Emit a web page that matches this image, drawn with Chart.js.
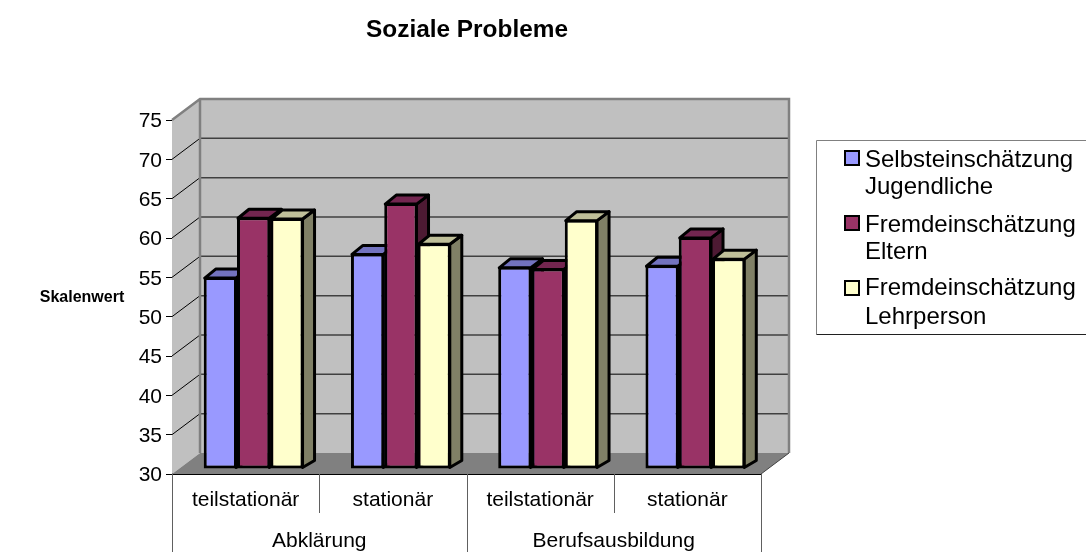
<!DOCTYPE html>
<html>
<head>
<meta charset="utf-8">
<style>
  html, body { margin: 0; padding: 0; background: #fff; overflow: hidden; }
  canvas { display: block; }
</style>
<script src="https://cdn.jsdelivr.net/npm/chart.js@4"></script>
</head>
<body>
<canvas id="chart" width="1086" height="552"></canvas>
<script>
// Data
const categories = ['teilstationär', 'stationär', 'teilstationär', 'stationär'];
const groups = ['Abklärung', 'Berufsausbildung'];
const selbst = [54.4, 57.4, 55.7, 55.9];
const eltern = [62, 63.8, 55.5, 59.5];
const lehrer = [61.9, 58.7, 61.7, 56.8];
const legendLines = [
    ['Selbsteinschätzung', 'Jugendliche'],
    ['Fremdeinschätzung', 'Eltern'],
    ['Fremdeinschätzung', 'Lehrperson']
];

const FONT = '"Liberation Sans", Arial, sans-serif';

// Front, top and side colour per series
const faces = [
    { front: '#9999ff', top: '#7373bf', side: '#4d4d80' },
    { front: '#993366', top: '#732650', side: '#4d1a33' },
    { front: '#ffffcc', top: '#bfbf99', side: '#808066' }
];

// Depth of the box and of the bars, in pixels
const wall = { dx: 28, dy: -21 };
const bar = { dx: 11, dy: -8 };
const barShift = { x: 8, y: -5 };

function poly(ctx, pts, fill, stroke, width) {
    ctx.beginPath();
    pts.forEach((p, i) => i ? ctx.lineTo(p[0], p[1]) : ctx.moveTo(p[0], p[1]));
    ctx.closePath();
    if (fill) { ctx.fillStyle = fill; ctx.fill(); }
    if (stroke) { ctx.strokeStyle = stroke; ctx.lineWidth = width; ctx.stroke(); }
}

// Walls, floor and grid behind the bars
const box3d = {
    id: 'box3d',
    beforeDatasetsDraw(chart) {
        const { ctx, chartArea: a, scales: { y } } = chart;
        const { dx, dy } = wall;
        ctx.save();
        ctx.lineJoin = 'miter';
        poly(ctx, [[a.left + dx, a.top + dy], [a.right + dx, a.top + dy], [a.right + dx, a.bottom + dy], [a.left + dx, a.bottom + dy]], '#c0c0c0');
        poly(ctx, [[a.left, a.top], [a.left + dx, a.top + dy], [a.left + dx, a.bottom + dy], [a.left, a.bottom]], '#c0c0c0');
        poly(ctx, [[a.left, a.bottom], [a.left + dx, a.bottom + dy], [a.right + dx, a.bottom + dy], [a.right, a.bottom]], '#808080');

        y.ticks.forEach(t => {
            if (t.value === y.min || t.value === y.max) return;
            const py = y.getPixelForValue(t.value);
            ctx.strokeStyle = '#000';
            ctx.lineWidth = 1;
            ctx.beginPath();
            ctx.moveTo(a.left, py);
            ctx.lineTo(a.left + dx, py + dy);
            ctx.stroke();
            ctx.strokeStyle = '#404040';
            ctx.lineWidth = 1.5;
            ctx.beginPath();
            ctx.moveTo(a.left + dx, py + dy);
            ctx.lineTo(a.right + dx, py + dy);
            ctx.stroke();
        });

        // Grey outline of the walls
        ctx.strokeStyle = '#808080';
        ctx.lineWidth = 2.5;
        ctx.beginPath();
        ctx.moveTo(a.left, a.top);
        ctx.lineTo(a.left + dx, a.top + dy);
        ctx.lineTo(a.right + dx, a.top + dy);
        ctx.lineTo(a.right + dx, a.bottom + dy);
        ctx.moveTo(a.left + dx, a.top + dy);
        ctx.lineTo(a.left + dx, a.bottom + dy);
        ctx.stroke();
        ctx.strokeStyle = '#404040';
        ctx.lineWidth = 1;
        ctx.beginPath();
        ctx.moveTo(a.right, a.bottom);
        ctx.lineTo(a.right + dx, a.bottom + dy);
        ctx.stroke();
        ctx.restore();

        // Bars stand in the middle of the floor
        ctx.save();
        ctx.translate(barShift.x, barShift.y);

        // Side and top faces go first, the library paints the fronts over them
        ctx.lineJoin = 'round';
        chart.data.datasets.forEach((ds, i) => {
            const f = faces[i];
            chart.getDatasetMeta(i).data.forEach(el => {
                const hw = el.width / 2;
                const l = el.x - hw, r = el.x + hw, t = el.y, b = el.base;
                poly(ctx, [[r - 1, t + 1], [r + bar.dx, t + bar.dy], [r + bar.dx, b + bar.dy], [r - 1, b - 1]], f.side, '#000', 3);
                poly(ctx, [[l + 1, t + 1], [l + 1 + bar.dx, t + bar.dy], [r + bar.dx, t + bar.dy], [r - 1, t + 1]], f.top, '#000', 3);
            });
        });
    },
    afterDatasetsDraw(chart) {
        chart.ctx.restore();
    },
    afterDraw(chart) {
        const { ctx, chartArea: a, scales: { x } } = chart;
        const cw = x.width / categories.length;
        ctx.save();

        // Lines between the two label levels
        ctx.strokeStyle = '#606060';
        ctx.lineWidth = 1;
        for (let i = 0; i <= categories.length; i++) {
            const px = Math.round(x.left + i * cw) + 0.5;
            ctx.beginPath();
            ctx.moveTo(px, a.bottom);
            ctx.lineTo(px, i % 2 ? 513 : 552);
            ctx.stroke();
        }

        ctx.fillStyle = '#000';
        ctx.textBaseline = 'middle';
        ctx.textAlign = 'center';
        ctx.font = '21px ' + FONT;
        groups.forEach((g, i) => {
            const mid = (x.getPixelForValue(i * 2) + x.getPixelForValue(i * 2 + 1)) / 2;
            ctx.fillText(g, mid, 541);
        });

        ctx.font = 'bold 24.4px ' + FONT;
        ctx.fillText('Soziale Probleme', 467, 30);
        ctx.font = 'bold 16px ' + FONT;
        ctx.fillText('Skalenwert', 82, 298);

        // Legend box runs off the right edge
        ctx.fillStyle = '#fff';
        ctx.fillRect(816, 140, 270, 194);
        ctx.strokeStyle = '#808080';
        ctx.lineWidth = 1;
        ctx.beginPath();
        ctx.moveTo(1086, 140.5);
        ctx.lineTo(816.5, 140.5);
        ctx.lineTo(816.5, 334.5);
        ctx.stroke();
        ctx.strokeStyle = '#202020';
        ctx.beginPath();
        ctx.moveTo(816.5, 334.5);
        ctx.lineTo(1086, 334.5);
        ctx.stroke();

        const rows = [[160, 187, 158], [225, 252, 223], [288, 317, 288]];
        ctx.textAlign = 'left';
        ctx.font = '24px ' + FONT;
        legendLines.forEach((lines, i) => {
            ctx.fillStyle = faces[i].front;
            ctx.strokeStyle = '#000';
            ctx.lineWidth = 2;
            ctx.fillRect(845, rows[i][2] - 7, 14, 14);
            ctx.strokeRect(845, rows[i][2] - 7, 14, 14);
            ctx.fillStyle = '#000';
            ctx.fillText(lines[0], 865, rows[i][0]);
            ctx.fillText(lines[1], 865, rows[i][1]);
        });
        ctx.restore();
    }
};

const series = [selbst, eltern, lehrer];
new Chart(document.getElementById('chart'), {
    type: 'bar',
    plugins: [box3d],
    data: {
        labels: categories,
        datasets: series.map((values, i) => ({
            label: legendLines[i].join(' '),
            data: values,
            base: 30,
            backgroundColor: faces[i].front,
            borderColor: '#000',
            borderWidth: 3,
            borderSkipped: false,
            clip: false,
            barPercentage: 1,
            categoryPercentage: 0.678
        }))
    },
    options: {
        responsive: false,
        animation: false,
        layout: { padding: { left: 132, right: 325, top: 120, bottom: 0 } },
        plugins: { legend: { display: false }, title: { display: false }, tooltip: { enabled: false } },
        scales: {
            x: {
                grid: { display: false },
                border: { display: true, color: '#000', width: 1 },
                ticks: { color: '#000', font: { family: FONT, size: 21 }, maxRotation: 0, autoSkip: false, padding: 6 },
                afterFit: s => { s.height = 78; }
            },
            y: {
                min: 30,
                max: 75,
                grid: { drawOnChartArea: false, drawTicks: true, tickLength: 6, color: '#000' },
                border: { display: true, color: '#000', width: 1 },
                ticks: { stepSize: 5, color: '#000', font: { family: FONT, size: 21 }, padding: 4, labelOffset: 1.5 },
                afterFit: s => { s.width = 40; }
            }
        }
    }
});
</script>
</body>
</html>
